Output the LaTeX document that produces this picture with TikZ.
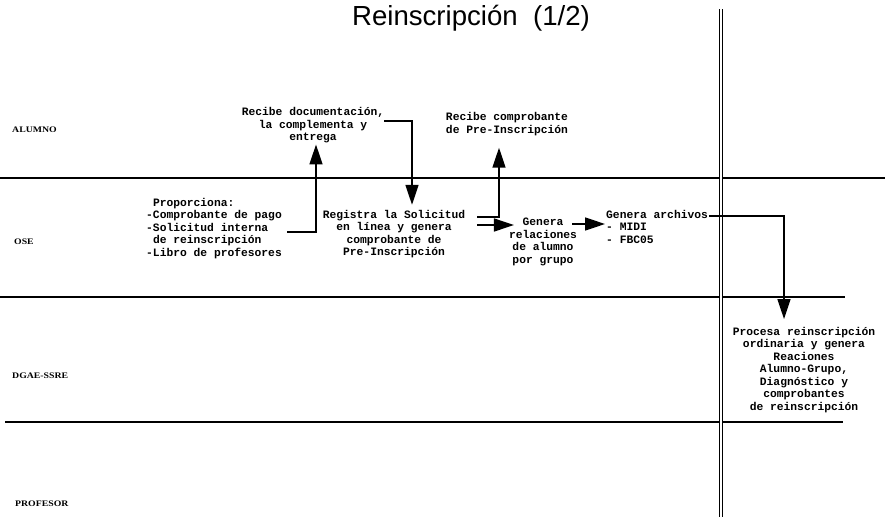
\documentclass[tikz,border=0pt]{standalone}
\usepackage{fontspec}
\setmainfont{Liberation Serif}
\newfontfamily\monofont{Liberation Mono}
\newfontfamily\titlefont{Liberation Sans}
\usetikzlibrary{arrows.meta}

\tikzset{
  lane/.style={line width=1.3pt},
  lanelabel/.style={anchor=base west, inner sep=0pt, font=\fontsize{8.5}{9}\selectfont\bfseries},
  txt/.style={inner sep=1pt, font=\monofont\bfseries\fontsize{11.3}{12.5}\selectfont},
  flow/.style={line width=1.6pt, -{Triangle[length=20pt,width=13pt]}},
}

\begin{document}
\begin{tikzpicture}[x=1pt,y=-1pt]
\useasboundingbox (0,0) rectangle (885,517);

% title
\node[anchor=base, inner sep=0pt, font=\titlefont\fontsize{27.6}{30}\selectfont] (title) at (471,25) {Reinscripción\ \ (1/2)};

% swimlane separators
\draw[lane] (0,178) -- (885,178);
\draw[lane] (0,297) -- (845,297);
\draw[lane] (5,422) -- (843,422);
\draw[line width=1pt, double, double distance=1.6pt] (721,9) -- (721,517);

% lane names
\node[lanelabel] (lalumno) at (12,132) {\scalebox{1.15}[1]{ALUMNO}};
\node[lanelabel] (lose) at (14,244) {\scalebox{1.15}[1]{OSE}};
\node[lanelabel] (ldgae) at (12,378) {\scalebox{1.15}[1]{DGAE-SSRE}};
\node[lanelabel] (lprof) at (15,506) {\scalebox{1.15}[1]{PROFESOR}};

% activities
\node[txt, align=center] (recdoc) at (313,125.5)
  {Recibe documentación,\\la complementa y\\entrega};
\node[txt, align=center] (reccomp) at (507,124)
  {Recibe comprobante\\de Pre-Inscripción};
\node[txt, align=left, anchor=west] (prop) at (145,228.5)
  {\hspace*{6.8pt}Proporciona:\\-Comprobante de pago\\-Solicitud interna\\\hspace*{6.8pt}de reinscripción\\-Libro de profesores};
\node[txt, align=center] (reg) at (394,234)
  {Registra la Solicitud\\en línea y genera\\comprobante de\\Pre-Inscripción};
\node[txt, align=center] (genrel) at (543,242)
  {Genera\\relaciones\\de alumno\\por grupo};
\node[txt, align=left, anchor=west] (genarch) at (605,226.5)
  {Genera archivos\\- MIDI\\- FBC05};
\node[txt, align=center] (procesa) at (804,370)
  {Procesa reinscripción\\ordinaria y genera\\Reaciones\\Alumno-Grupo,\\Diagnóstico y\\comprobantes\\de reinscripción};

% connector start points
\coordinate (p1) at (287,232);
\coordinate (p2) at (384,121);
\coordinate (p3) at (477,217);
\coordinate (p4) at (477,225);
\coordinate (p5) at (572,224);
\coordinate (p6) at (709,216);

% flow
\draw[flow] (p1) -| ([xshift=3pt]recdoc.south);
\draw[flow] (p2) -| ([xshift=18pt,yshift=4pt]reg.north);
\draw[flow] (p3) -| ([xshift=-8pt,yshift=-11pt]reccomp.south);
\draw[flow] (p4) -- ([xshift=6pt]genrel.west |- p4);
\draw[flow] (p5) -- (p5 -| genarch.west);
\draw[flow] (p6) -| ([xshift=-20pt,yshift=7pt]procesa.north);
\end{tikzpicture}
\end{document}
